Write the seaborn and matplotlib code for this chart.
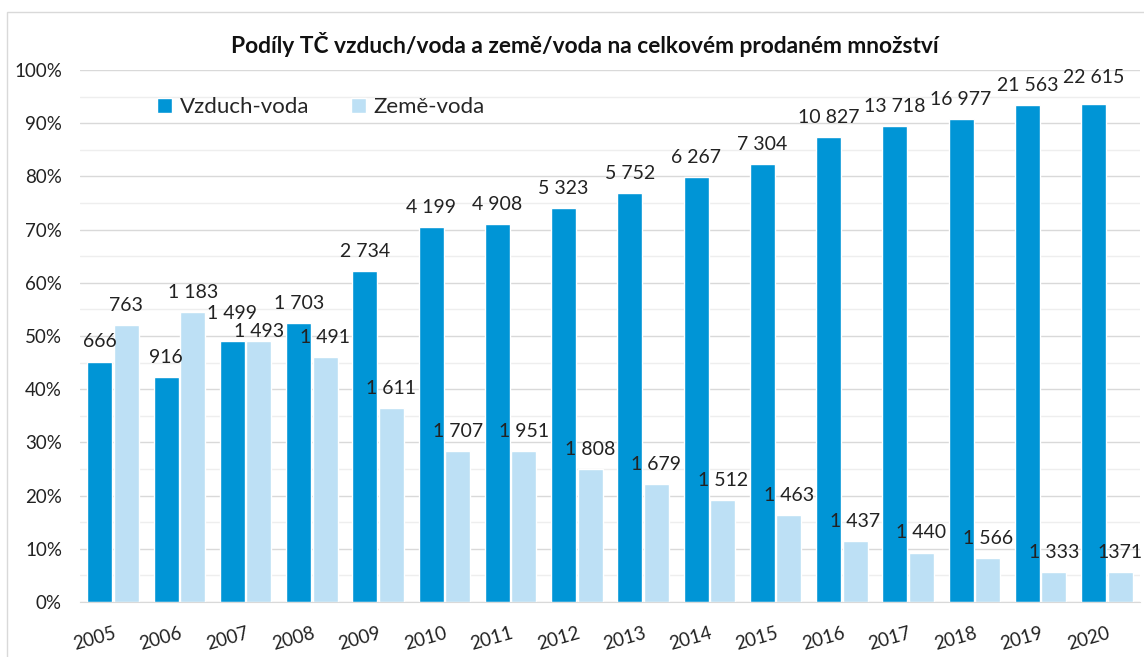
import pandas as pd
import matplotlib.pyplot as plt
import seaborn as sns
from matplotlib.ticker import PercentFormatter, MultipleLocator
from matplotlib.patches import Rectangle

# data
years = [str(y) for y in range(2005, 2021)]
vzduch_pct = [45.2, 42.3, 49.0, 52.5, 62.2, 70.5, 71.1, 74.0, 76.8, 79.9, 82.3, 87.4, 89.4, 90.8, 93.4, 93.6]
zeme_pct = [52.0, 54.5, 49.0, 46.0, 36.5, 28.4, 28.3, 25.0, 22.2, 19.2, 16.4, 11.5, 9.3, 8.3, 5.6, 5.6]
vzduch_ks = ["666", "916", "1 499", "1 703", "2 734", "4 199", "4 908", "5 323", "5 752", "6 267",
             "7 304", "10 827", "13 718", "16 977", "21 563", "22 615"]
zeme_ks = ["763", "1 183", "1 493", "1 491", "1 611", "1 707", "1 951", "1 808", "1 679", "1 512",
           "1 463", "1 437", "1 440", "1 566", "1 333", "1371"]

df = pd.DataFrame({
    'rok': years * 2,
    'podil': vzduch_pct + zeme_pct,
    'typ': ['Vzduch-voda'] * len(years) + ['Země-voda'] * len(years),
})

sns.set_style('white')
plt.rcParams['font.family'] = ['Lato', 'DejaVu Sans']

fig = plt.figure(figsize=(11.44, 6.57), dpi=100)
ax = fig.add_axes([80 / 1144, 1 - 602 / 657, 1060 / 1144, 532 / 657])

sns.barplot(data=df, x='rok', y='podil', hue='typ', palette=['#0095D6', '#BDE0F5'],
            width=0.8, gap=0.06, ax=ax, saturation=1)

lab_v = ax.bar_label(ax.containers[0], labels=vzduch_ks, padding=8, fontsize=14, color='#222222')
lab_z = ax.bar_label(ax.containers[1], labels=zeme_ks, padding=8, fontsize=14, color='#222222')
# labels staggered like in the original where neighbours collide
i07 = years.index('2007')
lab_v[i07].xyann = (0, 14)
lab_z[i07].xyann = (0, 1)
lab_v[years.index('2020')].xyann = (0, 13)

ax.set_ylim(0, 100)
ax.yaxis.set_major_locator(MultipleLocator(10))
ax.yaxis.set_minor_locator(MultipleLocator(5))
ax.yaxis.set_major_formatter(PercentFormatter(100, decimals=0))
ax.grid(axis='y', which='major', color='#d9d9d9', linewidth=1)
ax.grid(axis='y', which='minor', color='#eeeeee', linewidth=1)
ax.set_axisbelow(True)
for s in ['top', 'right', 'left']:
    ax.spines[s].set_visible(False)
ax.spines['bottom'].set_color('#d9d9d9')
ax.tick_params(axis='y', which='both', length=0, pad=13, labelsize=13.5, labelcolor='#222222')
ax.tick_params(axis='x', length=0, pad=16, labelsize=13.5, labelcolor='#222222')
plt.setp(ax.get_xticklabels(), rotation=16, ha='right', va='top', rotation_mode='anchor')
ax.set_xlabel('')
ax.set_ylabel('')

h, l = ax.get_legend_handles_labels()
ax.legend(h, l, loc='center left', bbox_to_anchor=(0.054, 0.930), ncol=2, frameon=False,
          fontsize=16, handlelength=0.65, handleheight=0.65, handletextpad=0.35, columnspacing=1.9)

fig.text(0.511, 0.933, 'Podíly TČ vzduch/voda a země/voda na celkovém prodaném množství',
         ha='center', va='center', fontsize=16.4, fontweight='bold', color='#111111')

fig.add_artist(Rectangle((7 / 1144, -0.01), 1.0, 0.992, transform=fig.transFigure,
                         fill=False, edgecolor='#d9d9d9', linewidth=1))

fig.savefig('out.png', dpi=100)
